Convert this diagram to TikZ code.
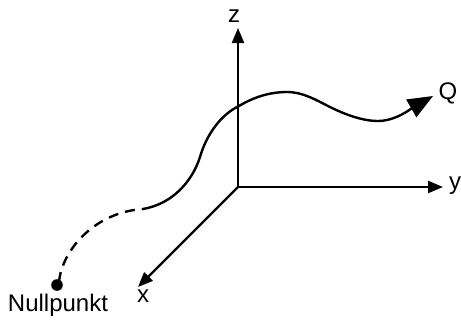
\documentclass[tikz,border=0pt]{standalone}
\usepackage{fontspec}
\setmainfont{Liberation Sans}
\usetikzlibrary{arrows.meta}
\begin{document}
\begin{tikzpicture}[x=0.5pt,y=-0.5pt,
  axis/.style={line width=1.1pt,-{Triangle[length=7.5pt,width=6pt]}},
  pathline/.style={line width=1.2pt},
  lbl/.style={inner sep=0pt,anchor=base,font=\fontsize{12}{13}\selectfont},
  dashpart/.style={pathline,dash pattern=on 5pt off 3.5pt}]
\useasboundingbox (0,0) rectangle (461,322);
\coordinate (O) at (238,187);
\coordinate (zend) at (238,28);
\coordinate (yend) at (443,187);
\coordinate (xend) at (138,287);
\draw[axis] (O) -- (zend);
\draw[axis] (O) -- (yend);
\draw[axis] (O) -- (xend);
\node[lbl] (zl) at (234,22) {z};
\node[lbl] (yl) at (455,189) {y};
\node[lbl] (xl) at (143,302) {x};
\node[lbl] (ql) at (448,99) {Q};
\node[lbl] (nl) at (58,311) {Nullpunkt};
\coordinate (N) at (57,285);
\fill (N) circle (2.9pt);
\coordinate (S) at (143,209);
\coordinate (A) at (200,157);
\coordinate (B) at (239,106);
\coordinate (P) at (287,92);
\coordinate (C) at (330,107);
\coordinate (T) at (378,121);
\coordinate (E) at (433,96);
\draw[dashpart] (59,282) .. controls (62,250) and (95,212) .. (S);
\draw[pathline,-{Triangle[length=12.5pt,width=10pt]}]
  (S) .. controls (172,204) and (192,182) .. (A)
      .. controls (206,136) and (220,115) .. (B)
      .. controls (254,97) and (270,92) .. (P)
      .. controls (303,92) and (316,100) .. (C)
      .. controls (344,114) and (362,121) .. (T)
      .. controls (396,121) and (412,108) .. (E);
\end{tikzpicture}
\end{document}
